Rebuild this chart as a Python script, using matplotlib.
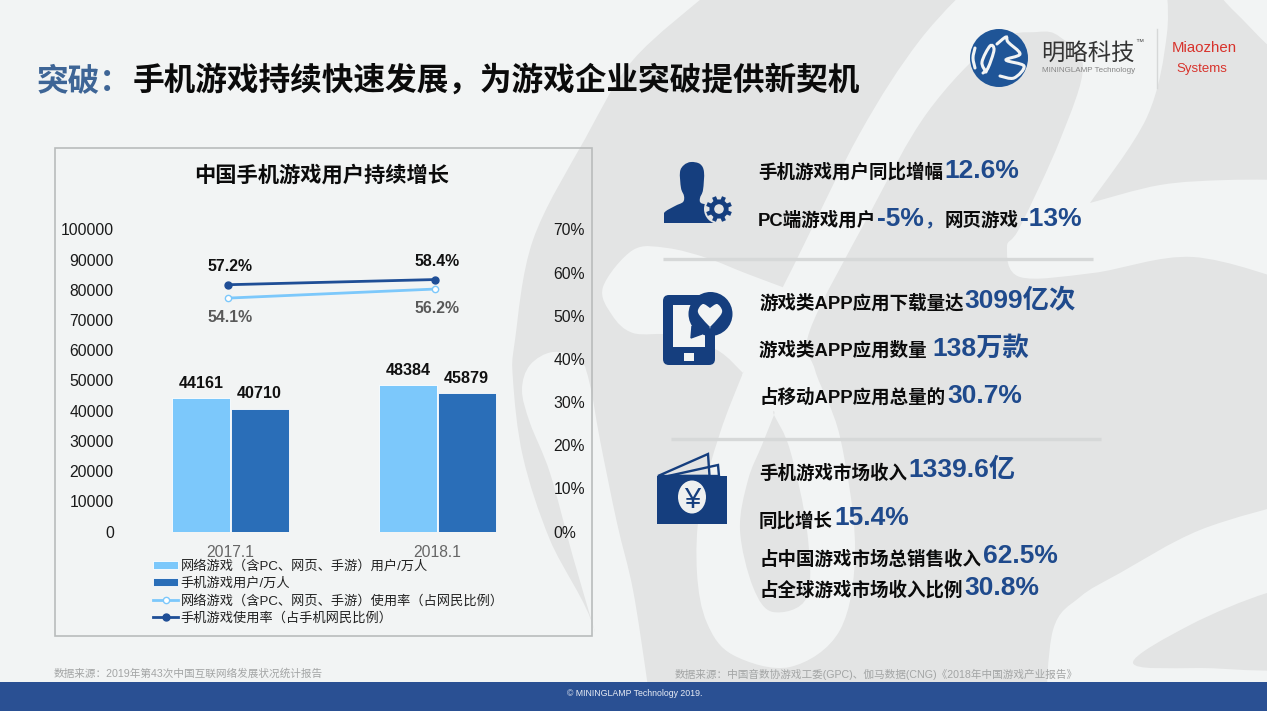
import numpy as np
import matplotlib
matplotlib.use('Agg')
import matplotlib.pyplot as plt
from matplotlib.path import Path
from matplotlib.patches import PathPatch, Rectangle, FancyBboxPatch, Circle, Ellipse, Polygon

plt.rcParams['font.family'] = ['Liberation Sans', 'Noto Sans CJK SC', 'DejaVu Sans']

categories = ['2017.1', '2018.1']
online_users = [44161, 48384]
mobile_users = [40710, 45879]
online_rate = [54.1, 56.2]
mobile_rate = [57.2, 58.4]
left_ticks = [0, 10000, 20000, 30000, 40000, 50000, 60000, 70000, 80000, 90000, 100000]
right_ticks = [0, 10, 20, 30, 40, 50, 60, 70]
legend_labels = ['网络游戏（含PC、网页、手游）用户/万人', '手机游戏用户/万人',
                 '网络游戏（含PC、网页、手游）使用率（占网民比例）', '手机游戏使用率（占手机网民比例）']

W, H = 1267, 711
BG = '#f2f4f4'; GRAY = '#e3e4e4'; NAVY = '#153e7e'; BIG = '#1f4a8c'; INK = '#0b0b0b'
fig = plt.figure(figsize=(W/100, H/100), dpi=100, facecolor=BG)
bg = fig.add_axes([0, 0, 1, 1]); bg.set_xlim(0, W); bg.set_ylim(H, 0); bg.axis('off')
renderer = fig.canvas.get_renderer()


def smooth(pts, closed=True):
    pts = np.array(pts, float); n = len(pts)
    verts = [pts[0]]; codes = [Path.MOVETO]
    for i in (range(n) if closed else range(n-1)):
        p0 = pts[(i-1) % n] if (closed or i > 0) else pts[i]
        p1 = pts[i]; p2 = pts[(i+1) % n]
        p3 = pts[(i+2) % n] if (closed or i+2 < n) else p2
        verts += [p1+(p2-p0)/6, p2-(p3-p1)/6, p2]
        codes += [Path.CURVE4]*3
    return Path(verts, codes)


def blob(pts, color, z=1):
    bg.add_patch(PathPatch(smooth(pts), fc=color, ec='none', zorder=z))


# watermark shapes
blob([(725, -30), (711, -10), (633, 60), (585, 139), (533, 240), (515, 340), (513, 380), (523, 457), (550, 540),
      (595, 632), (600, 730), (600, 730), (1320, 730), (1320, 730), (1320, -30), (1320, -30)], GRAY, 1)
blob([(522, 390), (530, 423), (550, 473), (573, 557), (595, 632), (595, 632), (595, 720), (595, 720), (652, 720), (652, 720),
      (647, 680), (633, 590), (617, 523), (600, 440), (590, 385), (580, 360), (553, 352), (530, 365)], BG, 2)
blob([(603, 287), (633, 250), (667, 248), (707, 258), (745, 273), (785, 288), (785, 288), (760, 345), (743, 373), (743, 373),
      (717, 350), (673, 335), (633, 333), (612, 315)], BG, 2)
blob([(985, -30), (985, -30), (920, 40), (860, 133), (793, 267), (760, 333), (743, 373), (720, 433), (700, 507), (697, 573),
      (707, 623), (733, 655), (790, 667), (840, 630), (855, 547), (840, 437), (815, 370), (810, 330), (870, 213), (927, 113),
      (993, 43), (1037, 32), (1060, 37), (1083, 67), (1060, 140), (1020, 227), (1007, 247), (1020, 277), (1093, 273),
      (1193, 257), (1300, 285), (1300, 285), (1300, 180), (1300, 180), (1227, 180), (1160, 185), (1090, 203), (1090, 203),
      (1147, 117), (1167, 33), (1165, -30), (1165, -30)], BG, 2)
blob([(774, 415), (774, 415), (790, 450), (807, 530), (807, 597), (773, 612), (753, 587), (740, 530), (748, 480), (762, 445)], GRAY, 3)
blob([(1200, -30), (1200, -30), (1235, 12), (1300, 65), (1300, -30), (1300, -30)], BG, 2)
blob([(1045, 720), (1045, 720), (1053, 630), (1080, 597), (1120, 573), (1200, 530), (1300, 500), (1300, 500), (1300, 720), (1300, 720)], BG, 2)
blob([(1133, 663), (1190, 625), (1267, 593), (1320, 585), (1320, 663), (1200, 668)], GRAY, 3)
bg.add_patch(Rectangle((0, 682), W, 29, fc='#2a5093', ec='none', zorder=5))


def runs(x, y, parts, big_dy=0):
    """Lay text runs end to end along one baseline, in pixel coordinates."""
    for text, size, color in parts:
        dy = big_dy if 15 < size < 20 else 0
        t = bg.text(x, y + dy, text, fontsize=size, color=color, fontweight='bold', ha='left', va='baseline', zorder=6)
        x += t.get_window_extent(renderer).width + 1


TS = 22.8
bg.text(37, 90, '突破：', fontsize=TS, color='#3e6596', fontweight='bold', ha='left', va='baseline', zorder=6)
bg.text(133, 90, '手机游戏持续快速发展，为游戏企业突破提供新契机', fontsize=TS, color=INK, fontweight='bold', ha='left', va='baseline', zorder=6)

# chart panel
bg.add_patch(Rectangle((54.5, 147.5), 537, 488, fc='none', ec='#b9bcbc', lw=1.2, zorder=4))
bg.text(322, 175, '中国手机游戏用户持续增长', fontsize=15.3, fontweight='bold', color=INK, ha='center', va='center', zorder=6)

ax = fig.add_axes([127/W, 1-531.5/H, 414/W, 302/H], facecolor='none')
x = np.arange(len(categories))
bw = 58/207
ax.bar(x-bw/2-0.003, online_users, bw, color='#7cc8fb', edgecolor='white', linewidth=0.6, label=legend_labels[0])
ax.bar(x+bw/2+0.003, mobile_users, bw, color='#2a6eb8', edgecolor='white', linewidth=0.6, label=legend_labels[1])
ax.set_xlim(-0.5, 1.5); ax.set_ylim(0, 100000)
ax.set_yticks(left_ticks); ax.set_xticks(x, categories)
ax.tick_params(axis='y', length=0, pad=9.5, labelsize=11.3, labelcolor='#1a1a1a')
ax.tick_params(axis='x', length=0, pad=10, labelsize=11.3, labelcolor='#666666')
for s in ax.spines.values():
    s.set_visible(False)
for i in x:
    ax.annotate(str(online_users[i]), (i-bw/2, online_users[i]), xytext=(0, 10.5), textcoords='offset points',
                ha='center', va='center', fontsize=11.6, fontweight='bold', color='#111111')
    ax.annotate(str(mobile_users[i]), (i+bw/2, mobile_users[i]), xytext=(0, 10.5), textcoords='offset points',
                ha='center', va='center', fontsize=11.6, fontweight='bold', color='#111111')

ax2 = ax.twinx()
ax2.set_ylim(0, 70); ax2.set_yticks(right_ticks, [f'{t}%' for t in right_ticks])
ax2.tick_params(axis='y', length=0, pad=9, labelsize=11.3, labelcolor='#1a1a1a')
for s in ax2.spines.values():
    s.set_visible(False)
lx = x - 0.012
ax2.plot(lx, online_rate, color='#7cc8fb', lw=2, marker='o', ms=4.5, mfc='white', mec='#7cc8fb', mew=1, label=legend_labels[2])
ax2.plot(lx, mobile_rate, color='#1f4e96', lw=2, marker='o', ms=5, mfc='#1f4e96', mec='#1f4e96', label=legend_labels[3])
for i in x:
    ax2.annotate(f'{mobile_rate[i]}%', (lx[i], mobile_rate[i]), xytext=(1.5, 13), textcoords='offset points',
                 ha='center', va='center', fontsize=11.4, fontweight='bold', color='#111111')
    ax2.annotate(f'{online_rate[i]}%', (lx[i], online_rate[i]), xytext=(1.5, -14), textcoords='offset points',
                 ha='center', va='center', fontsize=11.4, fontweight='bold', color='#595959')

h1, l1 = ax.get_legend_handles_labels(); h2, l2 = ax2.get_legend_handles_labels()
fig.legend(h1+h2, l1+l2, loc='upper left', bbox_to_anchor=(153/W, 1-560/H), frameon=False, fontsize=9.5,
           labelcolor='#222222', handlelength=1.9, handleheight=0.6, handletextpad=0.2, labelspacing=0.37, borderpad=0, borderaxespad=0)

# person icon
blob([(691, 162), (700, 164), (704, 172), (703, 190), (700, 198), (701, 203), (711, 207), (716, 223), (716, 223),
      (664, 223), (664, 223), (664, 213), (675, 206), (683, 202), (684, 196), (681, 188), (680, 172), (684, 165)], NAVY, 6)
bg.add_patch(Rectangle((655, 223), 70, 5, fc=GRAY, ec='none', zorder=6.5))
bg.add_patch(Rectangle((656, 205), 8, 20, fc=GRAY, ec='none', zorder=6.5))
bg.add_patch(Circle((719, 209), 15, fc=GRAY, ec='none', zorder=7))
for a in np.arange(0, 360, 45):
    r = np.deg2rad(a + 22.5)
    bg.plot([719+7*np.cos(r), 719+13*np.cos(r)], [209+7*np.sin(r), 209+13*np.sin(r)], color=NAVY, lw=3, zorder=8, solid_capstyle='butt')
bg.add_patch(Circle((719, 209), 7.2, fc=GRAY, ec=NAVY, lw=3.4, zorder=9))

# phone icon
bg.add_patch(FancyBboxPatch((666, 298), 46, 64, boxstyle='round,pad=3,rounding_size=6', fc=NAVY, ec='none', zorder=6))
bg.add_patch(Rectangle((673, 305), 32, 42, fc=BG, ec='none', zorder=7))
bg.add_patch(Rectangle((684, 353), 10, 8, fc=BG, ec='none', zorder=7))
bg.add_patch(Circle((710.5, 314), 22, fc=NAVY, ec='none', zorder=8))
bg.add_patch(Polygon([(692, 326), (702, 334), (691, 338)], fc=NAVY, ec=NAVY, zorder=8))
blob([(710, 327), (710, 327), (700, 316), (698, 310), (703, 304), (710, 308), (710, 308), (717, 304), (722, 310), (720, 316)], BG, 9)

# wallet icon
bg.add_patch(Rectangle((657, 476), 70, 48, fc=NAVY, ec='none', zorder=6))
bg.add_patch(Polygon([(658, 476), (708, 454), (709.5, 476)], fc='none', ec=NAVY, lw=1.7, zorder=6))
bg.add_patch(Polygon([(668, 476), (718, 465), (719, 476)], fc='none', ec=NAVY, lw=1.7, zorder=6))
bg.add_patch(Ellipse((692, 497), 28, 33, fc='#eef0f0', ec='none', zorder=7))
bg.text(692, 507.5, '¥', fontsize=21, color=NAVY, ha='center', va='baseline', zorder=8)

# separators
bg.plot([663, 1093], [259, 259], color='#d6d8d8', lw=2.4, zorder=4, solid_capstyle='butt')
bg.plot([671, 1101], [439, 439], color='#d6d8d8', lw=2.4, zorder=4, solid_capstyle='butt')

# right side text
A, B = 13.3, 19
runs(758, 178, [('手机游戏用户同比增幅', A, INK), ('12.6%', B, BIG)], 0.5)
runs(758, 226, [('PC端游戏用户', A, INK), ('-5%', B, BIG), ('，', A, BIG), ('网页游戏', A, INK), ('-13%', B, BIG)])
runs(759, 309, [('游戏类APP应用下载量达', A, INK), ('3099亿次', B, BIG)], -1)
runs(759, 356, [('游戏类APP应用数量 ', A, INK), ('138万款', B, BIG)])
runs(760, 403, [('占移动APP应用总量的', A, INK), ('30.7%', B, BIG)])
runs(759, 479, [('手机游戏市场收入', A, INK), ('1339.6亿', B, BIG)], -2)
runs(759, 527, [('同比增长', A, INK), ('15.4%', B, BIG)], -2)
runs(760, 565, [('占中国游戏市场总销售收入', A, INK), ('62.5%', B, BIG)], -2)
runs(760, 596, [('占全球游戏市场收入比例', A, INK), ('30.8%', B, BIG)], -1)

# sources + footer
bg.text(54, 674, '数据来源：2019年第43次中国互联网络发展状况统计报告', fontsize=7.65, color='#a3a5a5', va='center', zorder=6)
bg.text(675, 674, '数据来源：中国音数协游戏工委(GPC)、伽马数据(CNG)《2018年中国游戏产业报告》', fontsize=7.65, color='#a3a5a5', va='center', zorder=6)
bg.text(635, 694, '© MININGLAMP Technology 2019.', fontsize=6.3, color='#e9edf5', ha='center', va='center', zorder=6)

# logo
bg.add_patch(Circle((999, 58), 29, fc='#1f5597', ec='none', zorder=6))
for stroke in ([(975, 48), (973, 58), (975, 68)],
               [(986, 72), (982, 62), (990, 46), (994, 50), (988, 68), (983, 73)],
               [(997, 44), (1006, 37), (1008, 42), (1020, 54), (1006, 60), (1024, 66), (1014, 78), (1000, 76)]):
    bg.add_patch(PathPatch(smooth(stroke, closed=False), fc='none', ec='#f2f4f4', lw=2.2, zorder=7, capstyle='round'))
bg.text(1041, 53, '明略科技', fontsize=16.8, color='#333333', ha='left', va='center', zorder=6)
bg.text(1139, 43, '™', fontsize=6, color='#555555', ha='center', va='center', zorder=6)
bg.text(1042, 71, 'MININGLAMP Technology', fontsize=5.8, color='#858585', ha='left', va='center', zorder=6)
bg.plot([1157, 1157], [29, 88], color='#d6d8d8', lw=1, zorder=6)
bg.text(1172, 48, 'Miaozhen', fontsize=10.8, color='#d8332c', ha='left', va='center', zorder=6)
bg.text(1176, 69, 'Systems', fontsize=9.5, color='#d8332c', ha='left', va='center', zorder=6)

fig.savefig('out.png', dpi=100, facecolor=BG)
